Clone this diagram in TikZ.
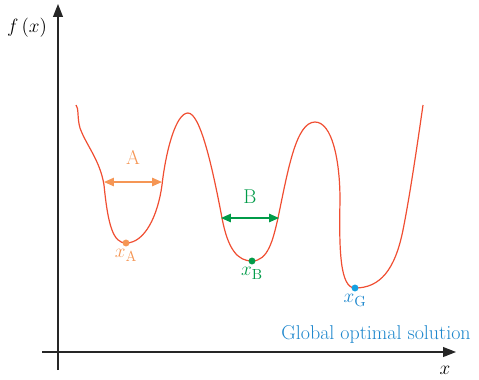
\documentclass[tikz,border=0pt]{standalone}
\usepackage{xcolor}
\usetikzlibrary{positioning, arrows.meta}
\definecolor{curvered}{RGB}{240,78,50}
\definecolor{orangeA}{RGB}{245,150,85}
\definecolor{greenB}{RGB}{0,155,72}
\definecolor{blueG}{RGB}{20,160,225}
\definecolor{blueT}{RGB}{30,135,205}
\tikzset{
  axis/.style={-{Triangle[length=3.4mm, width=2.6mm]}, line width=0.9pt, black!85},
  span/.style={{Triangle[length=2.6mm, width=2.2mm]}-{Triangle[length=2.6mm, width=2.2mm]}, line width=1pt},
  dot/.style={circle, fill, inner sep=0pt, minimum size=5.2pt},
  lbl/.style={font=\fontsize{15}{17}\selectfont, inner sep=1pt}
}
\begin{document}
\begin{tikzpicture}[x=0.75pt, y=-0.75pt]
  \useasboundingbox (0,0) rectangle (479,379);
  % axes
  \coordinate (ybot) at (58,370); \coordinate (ytop) at (58,4);
  \coordinate (xleft) at (42,352); \coordinate (xright) at (456,352);
  \draw[axis] (ybot)--(ytop);
  \draw[axis] (xleft)--(xright);
  \node[lbl] (fx) at (27,28) {$f\,(x)$};
  \node[lbl] (xl) at (445,370) {$x$};
  % objective
  \draw[curvered, line width=0.9pt] (76,105) .. controls (79,108) and (77,118) .. (80,128)
    .. controls (86,145) and (100,160) .. (104,185)
    .. controls (108,225) and (113,243) .. (126,243)
    .. controls (145,243) and (158,215) .. (162,185)
    .. controls (166,150) and (176,113) .. (188,113)
    .. controls (200,113) and (212,165) .. (222,218)
    .. controls (228,250) and (238,261) .. (252,261)
    .. controls (268,261) and (273,240) .. (278,218)
    .. controls (288,170) and (296,122) .. (315,122)
    .. controls (332,122) and (340,160) .. (340,200)
    .. controls (339,250) and (340,288) .. (355,288)
    .. controls (380,288) and (395,270) .. (403,230)
    .. controls (410,195) and (418,140) .. (423,105);
  % minima
  \node[dot, orangeA] (mA) at (126,243) {};
  \node[dot, greenB] (mB) at (252,261) {};
  \node[dot, blueG] (mG) at (355,288) {};
  \node[lbl, orangeA, below=1pt of mA] (xA) {$x_{\mathrm{A}}$};
  \node[lbl, greenB, below=1pt of mB] (xB) {$x_{\mathrm{B}}$};
  \node[lbl, blueT, below=1pt of mG] (xG) {$x_{\mathrm{G}}$};
  \node[lbl, blueT] (glob) at (376,334) {Global optimal solution};
  % basin widths
  \coordinate (a1) at (104,182); \coordinate (a2) at (162,182);
  \coordinate (b1) at (221,218); \coordinate (b2) at (279,218);
  \draw[span, orangeA] (a1)--(a2);
  \draw[span, greenB] (b1)--(b2);
  \node[lbl, orangeA] (lA) at (133,157) {A};
  \node[lbl, greenB] (lB) at (250,197) {B};
\end{tikzpicture}
\end{document}
